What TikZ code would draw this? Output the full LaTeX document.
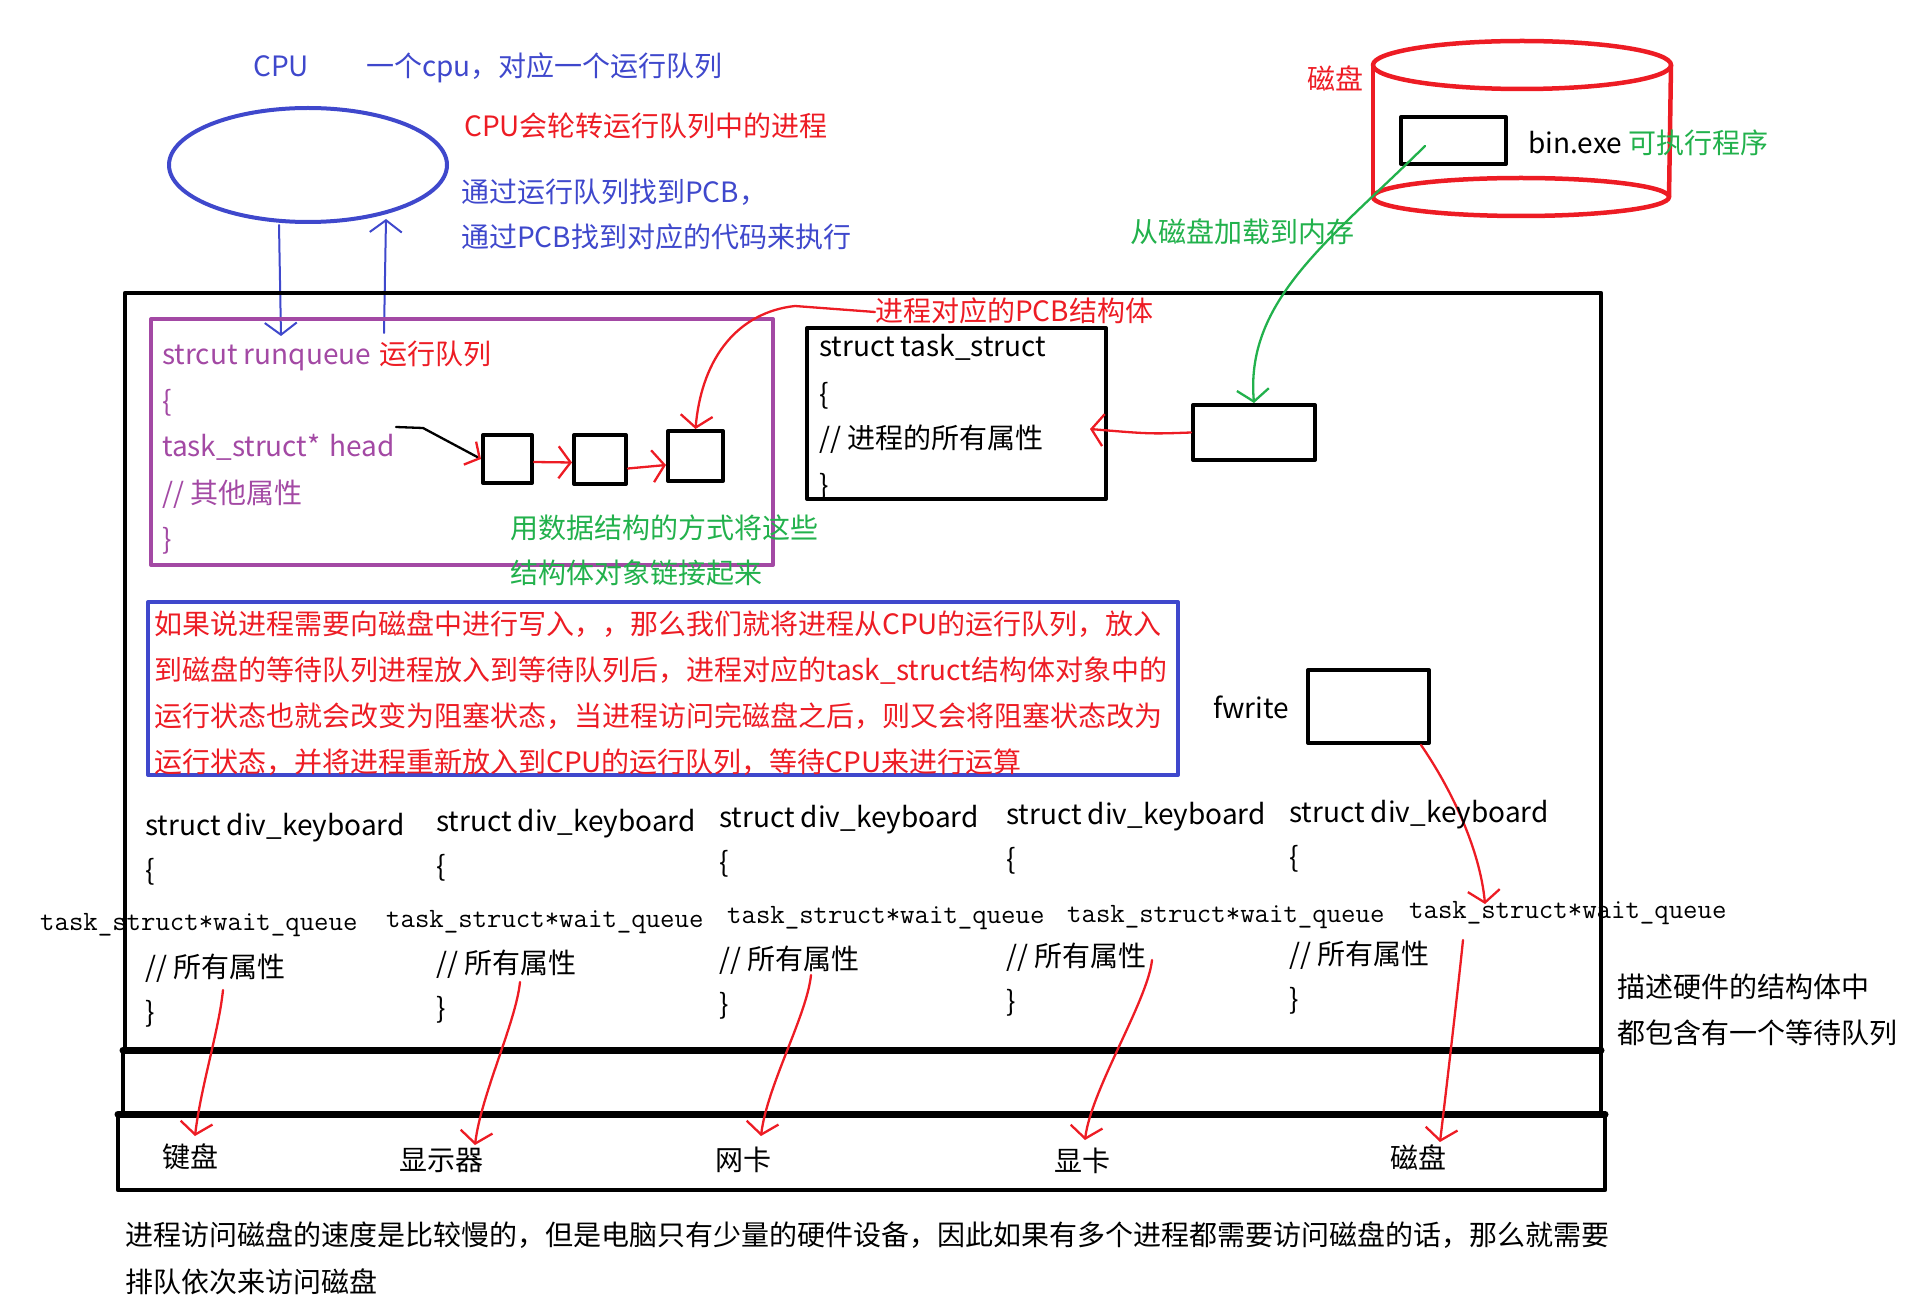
\documentclass[tikz,border=0pt]{standalone}
\usepackage{fontspec}
\setmainfont{Noto Sans CJK SC}
\usetikzlibrary{arrows.meta}
\definecolor{paintblue}{HTML}{3F48CC}
\definecolor{paintred}{HTML}{ED1C24}
\definecolor{paintgreen}{HTML}{22B14C}
\definecolor{paintpurple}{HTML}{A349A4}

\begin{document}
\begin{tikzpicture}[
  x=1pt,
  y=-1pt,
  line join=round,
  line cap=round,
  txt/.style={anchor=west,inner sep=0pt,text height=24pt,text depth=4pt,font=\fontsize{28}{34}\selectfont},
  mono/.style={anchor=west,inner sep=0pt,text height=24pt,text depth=4pt,font=\fontsize{28}{34}\selectfont\ttfamily},
  outline/.style={draw=black,line width=4.5pt},
  heavy/.style={draw=black,line width=7pt},
  cell/.style={draw=black,line width=4pt,inner sep=0pt},
  scribble/.style={line width=2.3pt,-{Straight Barb[length=12pt,width=32pt]}}
]
  \useasboundingbox (0,0) rectangle (1909,1313);

  % CPU with its run queue, top left
  \node[txt,text=paintblue] (cpu) at (253,67) {CPU};
  \node[txt,text=paintblue] (cpunote) at (366,67) {一个cpu，对应一个运行队列};
  \draw[paintblue,line width=4pt] (308,165) ellipse[x radius=139pt,y radius=57pt];
  \node[txt,text=paintred] (rotate) at (464,127) {CPU会轮转运行队列中的进程};
  \node[txt,text=paintblue] (findpcb) at (461,193) {通过运行队列找到PCB，};
  \node[txt,text=paintblue] (findcode) at (461,238) {通过PCB找到对应的代码来执行};

  \coordinate (cpuout) at (279,225);
  \coordinate (rqin) at (281,336);
  \coordinate (rqout) at (384,333);
  \coordinate (cpuin) at (386,219);
  \draw[scribble,paintblue,line width=2pt] (cpuout) -- (rqin);
  \draw[scribble,paintblue,line width=2pt] (rqout) -- (cpuin);

  % Disk holding the executable
  \draw[paintred,line width=4.5pt] (1522,65) ellipse[x radius=149pt,y radius=24pt];
  \draw[paintred,line width=4.5pt] (1521,197) ellipse[x radius=148pt,y radius=19pt];
  \draw[paintred,line width=4.5pt] (1373,65) -- (1373,197);
  \draw[paintred,line width=4.5pt] (1671,65) -- (1669,197);
  \node[txt,text=paintred] (disk) at (1307,80) {磁盘};
  \node[cell,minimum width=105pt,minimum height=47pt] (binbox) at (1453.5,140.5) {};
  \node[txt] (binexe) at (1528,144) {bin.exe \textcolor{paintgreen}{可执行程序}};
  \node[txt,text=paintgreen] (load) at (1130,233) {从磁盘加载到内存};

  % Memory
  \draw[outline] (125,293) rectangle (1601,1050);
  \draw[heavy] (123,1050) -- (1601,1050);
  \draw[outline] (123,1050) -- (123,1114);
  \draw[outline] (1601,1050) -- (1601,1114);
  \draw[heavy] (118,1114) -- (1605,1114);
  \draw[outline] (118,1114) rectangle (1605,1190);

  % Run queue
  \draw[paintpurple,line width=4pt] (151,319) rectangle (773,565);
  \node[txt,text=paintpurple] (rqname) at (162,355) {strcut runqueue\hspace{8pt}\textcolor{paintred}{运行队列}};
  \node[txt,text=paintpurple] (rqopen) at (162,402) {\{};
  \node[txt,text=paintpurple] (rqhead) at (162,446) {task\_struct*\hspace{9pt}head};
  \node[txt,text=paintpurple] (rqother) at (162,493) {// 其他属性};
  \node[txt,text=paintpurple] (rqclose) at (162,539) {\}};

  \node[cell,minimum width=49pt,minimum height=48pt] (q1) at (507.5,459) {};
  \node[cell,minimum width=52pt,minimum height=49pt] (q2) at (600,459.5) {};
  \node[cell,minimum width=55pt,minimum height=50pt] (q3) at (695.5,456) {};
  \coordinate (headptr) at (396,427);
  \draw[line width=2.3pt,-{Straight Barb[color=paintred,length=11pt,width=26pt]}]
    (headptr) -- (423,428) -- (q1.west);
  \draw[scribble,paintred] ([yshift=-3pt]q1.east) -- ([yshift=-3pt]q2.west);
  \draw[scribble,paintred] ([yshift=-9pt]q2.east) -- ([yshift=-9pt]q3.west);
  \node[txt,text=paintgreen] (linknote) at (510,528) {用数据结构的方式将这些};
  \node[txt,text=paintgreen] (linknote2) at (510,573) {结构体对象链接起来};

  % PCB of a process
  \node[txt,text=paintred] (pcbnote) at (875,312) {进程对应的PCB结构体};
  \draw[scribble,paintred] (pcbnote.west) -- (795,306) .. controls (740,312) and (702,355) .. (q3.north);
  \node[cell,minimum width=299pt,minimum height=171pt] (task) at (956.5,413.5) {};
  \node[txt] (taskname) at (819,347) {struct task\_struct};
  \node[txt] (taskopen) at (819,395) {\{};
  \node[txt] (taskattr) at (819,439) {// 进程的所有属性};
  \node[txt] (taskclose) at (819,485) {\}};
  \node[cell,minimum width=122pt,minimum height=55pt] (loaded) at (1254,432.5) {};
  \coordinate (taskin) at (1090,429);
  \draw[scribble,paintred] (loaded.west) .. controls (1150,434) .. (taskin);
  \draw[scribble,paintgreen] (1425,146) .. controls (1330,240) and (1245,300) .. (loaded.north);

  % Blocking on the disk
  \draw[paintblue,line width=4pt] (148,602) rectangle (1178,775);
  \node[txt,text=paintred] (why1) at (154,624) {如果说进程需要向磁盘中进行写入，，那么我们就将进程从CPU的运行队列，放入};
  \node[txt,text=paintred] (why2) at (154,670) {到磁盘的等待队列进程放入到等待队列后，进程对应的task\_struct结构体对象中的};
  \node[txt,text=paintred] (why3) at (154,716) {运行状态也就会改变为阻塞状态，当进程访问完磁盘之后，则又会将阻塞状态改为};
  \node[txt,text=paintred] (why4) at (154,762) {运行状态，并将进程重新放入到CPU的运行队列，等待CPU来进行运算};
  \node[txt] (fwrite) at (1213,708) {fwrite};
  \node[cell,minimum width=121pt,minimum height=73pt] (fwbox) at (1368.5,706.5) {};
  \coordinate (waitq) at (1485,904);
  \draw[scribble,paintred] ([xshift=-10pt]fwbox.south east) .. controls (1452,790) and (1480,850) .. (waitq);

  % Device structs, each with a wait queue
  \foreach \i/\sx/\sy/\tx/\ty/\dev/\dx/\dy/\ax/\ay/\bx/\by in {
      1/145/825/40/920/键盘/190/1157/223/990/195/1136,
      2/436/821/386/917/显示器/441/1160/520/982/475/1145,
      3/719/817/727/913/网卡/743/1160/811/975/761/1136,
      4/1006/814/1067/912/显卡/1082/1161/1152/960/1085/1140,
      5/1289/812/1409/908/磁盘/1418/1158/1463/940/1440/1142} {
    \node[txt] (dk\i) at (\sx,\sy) {struct div\_keyboard};
    \node[txt] (dkopen\i) at (\sx,\sy+45) {\{};
    \node[mono] (wq\i) at (\tx,\ty) {task\_struct*wait\_queue};
    \node[txt] (dkattr\i) at (\sx,\sy+142) {// 所有属性};
    \node[txt] (dkclose\i) at (\sx,\sy+187) {\}};
    \node[txt,anchor=center] (dev\i) at (\dx,\dy) {\dev};
    \coordinate (from\i) at (\ax,\ay);
    \coordinate (to\i) at (\bx,\by);
    \draw[scribble,paintred] (from\i) .. controls +(-4,40) and +(6,-50) .. (to\i);
  }
  \node[txt] (hwnote) at (1617,987) {描述硬件的结构体中};
  \node[txt] (hwnote2) at (1617,1033) {都包含有一个等待队列};

  % Closing remark
  \node[txt] (slow1) at (125,1235) {进程访问磁盘的速度是比较慢的，但是电脑只有少量的硬件设备，因此如果有多个进程都需要访问磁盘的话，那么就需要};
  \node[txt] (slow2) at (125,1282) {排队依次来访问磁盘};
\end{tikzpicture}
\end{document}
